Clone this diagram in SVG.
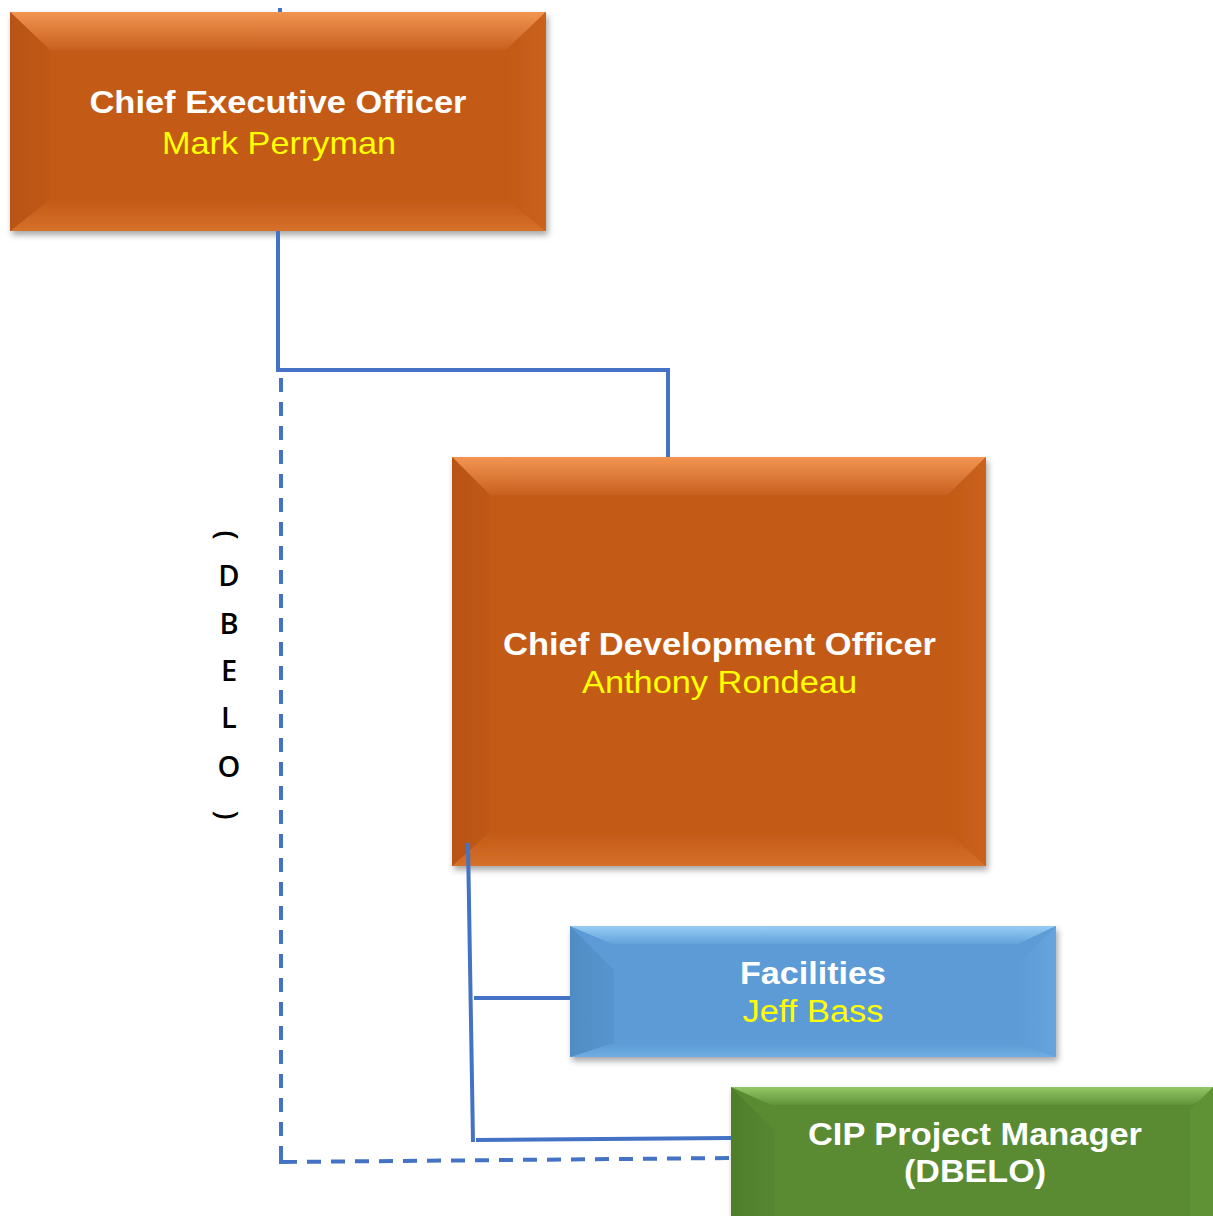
<svg xmlns="http://www.w3.org/2000/svg" width="1213" height="1216" viewBox="0 0 1213 1216">
<defs>
<filter id="sh" x="-10%" y="-10%" width="125%" height="130%">
<feDropShadow dx="2" dy="4" stdDeviation="3" flood-color="#000" flood-opacity="0.35"/>
</filter>
<linearGradient id="oTop" x1="0" y1="0" x2="0" y2="1"><stop offset="0" stop-color="#F29552"/><stop offset="1" stop-color="#C86020"/></linearGradient>
<linearGradient id="oBot" x1="0" y1="0" x2="0" y2="1"><stop offset="0" stop-color="#C35A16"/><stop offset="1" stop-color="#D5702A"/></linearGradient>
<linearGradient id="oL" x1="0" y1="0" x2="1" y2="0"><stop offset="0" stop-color="#B85313"/><stop offset="1" stop-color="#C05816"/></linearGradient>
<linearGradient id="oR" x1="0" y1="0" x2="1" y2="0"><stop offset="0" stop-color="#C35A16"/><stop offset="1" stop-color="#CA621E"/></linearGradient>
<linearGradient id="bTop" x1="0" y1="0" x2="0" y2="1"><stop offset="0" stop-color="#98CCF4"/><stop offset="1" stop-color="#62A2DB"/></linearGradient>
<linearGradient id="bBot" x1="0" y1="0" x2="0" y2="1"><stop offset="0" stop-color="#5B9BD5"/><stop offset="1" stop-color="#70ADE2"/></linearGradient>
<linearGradient id="bL" x1="0" y1="0" x2="1" y2="0"><stop offset="0" stop-color="#508CC4"/><stop offset="1" stop-color="#5795CF"/></linearGradient>
<linearGradient id="bR" x1="0" y1="0" x2="1" y2="0"><stop offset="0" stop-color="#5C9CD6"/><stop offset="1" stop-color="#66A4DD"/></linearGradient>
<linearGradient id="gTop" x1="0" y1="0" x2="0" y2="1"><stop offset="0" stop-color="#94C866"/><stop offset="1" stop-color="#60933A"/></linearGradient>
<linearGradient id="gL" x1="0" y1="0" x2="1" y2="0"><stop offset="0" stop-color="#4F7E2B"/><stop offset="1" stop-color="#578631"/></linearGradient>
</defs>
<style>
.ttl{font-family:"Liberation Sans",Arial,sans-serif;font-weight:bold;fill:#FFFFFF;text-anchor:middle}
.nm{font-family:"Liberation Sans",Arial,sans-serif;fill:#FFFF00;text-anchor:middle}
.ln{fill:none;stroke:#4472C4;stroke-width:4}
.dash{fill:none;stroke:#4472C4;stroke-width:4;stroke-dasharray:14 10}
.vt{font-family:"Open Sans","Liberation Sans",sans-serif;font-weight:600;font-size:29px;fill:#000;text-anchor:middle}
</style>

<g id="ceo">
<g filter="url(#sh)">
<rect x="10" y="12" width="536" height="219" fill="#C35A16"/>
<polygon points="10,12 546,12 506,50 50,50" fill="url(#oTop)"/>
<polygon points="10,231 546,231 506,199 50,199" fill="url(#oBot)"/>
<polygon points="10,12 50,50 50,199 10,231" fill="url(#oL)"/>
<polygon points="546,12 506,50 506,199 546,231" fill="url(#oR)"/>
</g>
<text class="ttl" x="278" y="113" font-size="32" textLength="377" lengthAdjust="spacingAndGlyphs">Chief Executive Officer</text>
<text class="nm" x="279" y="154" font-size="32" textLength="234" lengthAdjust="spacingAndGlyphs">Mark Perryman</text>
</g>

<g id="cdo">
<g filter="url(#sh)">
<rect x="452" y="457" width="534" height="409" fill="#C35A16"/>
<polygon points="452,457 986,457 948,495 490,495" fill="url(#oTop)"/>
<polygon points="452,866 986,866 948,832 490,832" fill="url(#oBot)"/>
<polygon points="452,457 490,495 490,832 452,866" fill="url(#oL)"/>
<polygon points="986,457 948,495 948,832 986,866" fill="url(#oR)"/>
</g>
<text class="ttl" x="719.5" y="655" font-size="31" textLength="433" lengthAdjust="spacingAndGlyphs">Chief Development Officer</text>
<text class="nm" x="719.5" y="693" font-size="31" textLength="275" lengthAdjust="spacingAndGlyphs">Anthony Rondeau</text>
</g>

<g id="dbelo-label">
<text class="vt" x="227" y="545" transform="rotate(90 227 535)">(</text>
<text class="vt" x="229" y="586">D</text>
<text class="vt" x="229" y="634">B</text>
<text class="vt" x="229" y="681">E</text>
<text class="vt" x="229" y="728">L</text>
<text class="vt" x="229" y="777">O</text>
<text class="vt" x="227" y="825" transform="rotate(90 227 815)">)</text>
</g>

<g id="facilities">
<g filter="url(#sh)">
<rect x="570" y="926" width="486" height="131" fill="#5B9BD5"/>
<polygon points="570,926 1056,926 1018,944 612,944" fill="url(#bTop)"/>
<polygon points="570,1057 1056,1057 1018,1043 612,1043" fill="url(#bBot)"/>
<polygon points="570,926 614,970 614,1043 570,1057" fill="url(#bL)"/>
<polygon points="1056,926 1018,964 1018,1043 1056,1057" fill="url(#bR)"/>
</g>
<text class="ttl" x="813" y="984" font-size="31" textLength="146" lengthAdjust="spacingAndGlyphs">Facilities</text>
<text class="nm" x="813" y="1022" font-size="31" textLength="141" lengthAdjust="spacingAndGlyphs">Jeff Bass</text>
</g>

<g id="cip">
<g filter="url(#sh)">
<rect x="731" y="1087" width="500" height="140" fill="#5A8A33"/>
<polygon points="731,1087 1231,1087 1191,1105 771,1105" fill="url(#gTop)"/>
<polygon points="731,1087 775,1131 775,1230 731,1230" fill="url(#gL)"/>
<polygon points="1213,1087 1190,1110 1190,1216 1213,1216" fill="#5F9236"/>
</g>
<text class="ttl" x="975" y="1145" font-size="32" textLength="334" lengthAdjust="spacingAndGlyphs">CIP Project Manager</text>
<text class="ttl" x="975" y="1182" font-size="32" textLength="142" lengthAdjust="spacingAndGlyphs">(DBELO)</text>
</g>

<g id="connectors">
<line class="ln" x1="280" y1="8" x2="280" y2="12"/>
<polyline class="ln" points="278,231 278,370 668,370 668,457"/>
<line class="dash" x1="281" y1="378" x2="281" y2="1164"/>
<line class="ln" x1="281" y1="1148" x2="281" y2="1164"/>
<polyline class="dash" points="283,1162 731,1158"/>
<line class="ln" x1="468" y1="843" x2="473" y2="1142"/>
<line class="ln" x1="474" y1="998" x2="570" y2="998"/>
<line class="ln" x1="476" y1="1140" x2="731" y2="1138"/>
</g>
</svg>
